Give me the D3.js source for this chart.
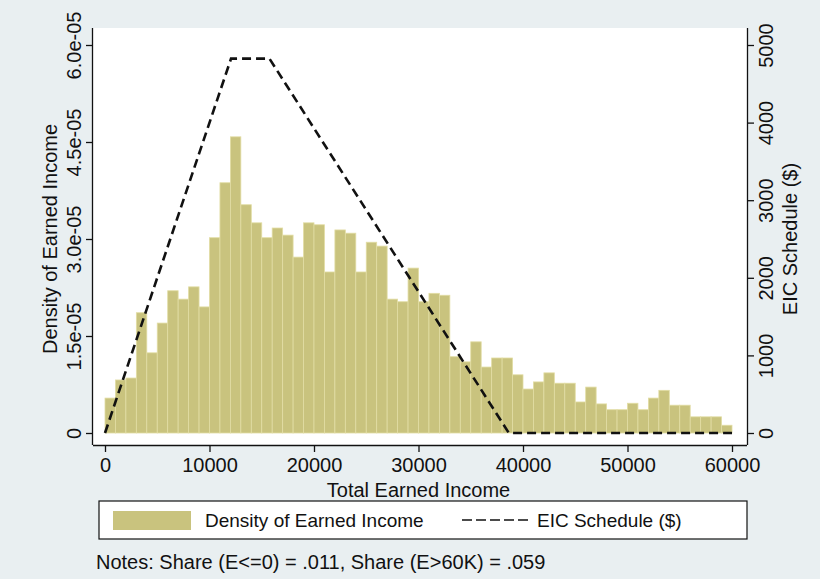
<!DOCTYPE html>
<html>
<head>
<meta charset="utf-8">
<script src="https://cdn.jsdelivr.net/npm/d3@7"></script>
<style>
  html, body { margin: 0; padding: 0; background: #e9eff1; }
  svg { display: block; }
  text { font-family: "Liberation Sans", Arial, Helvetica, sans-serif; fill: #111; }
</style>
</head>
<body>
<svg id="chart" width="820" height="579"></svg>
<script>
// ---------- DATA ----------
// Histogram bins (lower edges, $), width 1000
const binStart = [0,1000,2000,3000,4000,5000,6000,7000,8000,9000,
  10000,11000,12000,13000,14000,15000,16000,17000,18000,19000,
  20000,21000,22000,23000,24000,25000,26000,27000,28000,29000,
  30000,31000,32000,33000,34000,35000,36000,37000,38000,39000,
  40000,41000,42000,43000,44000,45000,46000,47000,48000,49000,
  50000,51000,52000,53000,54000,55000,56000,57000,58000,59000];
const binWidth = 1000;
// Density of earned income per bin
const density = [0.54e-5,0.82e-5,0.85e-5,1.86e-5,1.24e-5,1.70e-5,2.20e-5,2.07e-5,2.26e-5,1.95e-5,
  3.02e-5,3.87e-5,4.58e-5,3.53e-5,3.25e-5,3.02e-5,3.17e-5,3.06e-5,2.72e-5,3.25e-5,
  3.22e-5,2.49e-5,3.14e-5,3.09e-5,2.49e-5,2.95e-5,2.89e-5,2.07e-5,2.03e-5,2.55e-5,
  2.03e-5,2.16e-5,2.13e-5,1.18e-5,1.10e-5,1.41e-5,1.02e-5,1.16e-5,1.16e-5,0.90e-5,
  0.68e-5,0.79e-5,0.93e-5,0.77e-5,0.77e-5,0.48e-5,0.71e-5,0.45e-5,0.36e-5,0.36e-5,
  0.46e-5,0.36e-5,0.54e-5,0.66e-5,0.43e-5,0.43e-5,0.25e-5,0.25e-5,0.25e-5,0.12e-5];
// EIC schedule kink points
const eicIncome = [0, 12060, 15740, 38646, 60000];
const eicCredit = [0, 4824, 4824, 0, 0];
// Axis ticks
const xTicks = [0,10000,20000,30000,40000,50000,60000];
const yLeftTicks = [0, 1.5e-5, 3.0e-5, 4.5e-5, 6.0e-5];
const yLeftTickLabels = ["0","1.5e-05","3.0e-05","4.5e-05","6.0e-05"];
const yRightTicks = [0,1000,2000,3000,4000,5000];
// Texts
const xTitle = "Total Earned Income";
const yLeftTitle = "Density of Earned Income";
const yRightTitle = "EIC Schedule ($)";
const legendLabels = ["Density of Earned Income", "EIC Schedule ($)"];
const noteText = "Notes: Share (E<=0) = .011, Share (E>60K) = .059";

// ---------- LAYOUT ----------
const svg = d3.select("#chart");
const FS = 20;
const plot = {left: 93, right: 747, top: 28, bottom: 445};
const x = d3.scaleLinear().domain([0, 60000]).range([105, 732]);
const yL = d3.scaleLinear().domain([0, 6.0e-5]).range([433, 45]);
const yR = d3.scaleLinear().domain([0, 5000]).range([433, 45]);
const barFill = "#c9c37e";
const barStroke = "#e2dda4";

svg.append("rect").attr("x",0).attr("y",0).attr("width",820).attr("height",579).attr("fill","#e9eff1");
svg.append("rect").attr("x",plot.left).attr("y",plot.top)
  .attr("width",plot.right-plot.left).attr("height",plot.bottom-plot.top).attr("fill","#ffffff");

// Bars
svg.append("g").selectAll("rect").data(binStart).join("rect")
  .attr("x", (d) => x(d))
  .attr("width", (d) => x(d + binWidth) - x(d))
  .attr("y", (d, i) => yL(density[i]))
  .attr("height", (d, i) => yL(0) - yL(density[i]))
  .attr("fill", barFill)
  .attr("stroke", barStroke)
  .attr("stroke-width", 0.8);

// EIC line
const eicPts = eicIncome.map((v, i) => [v, eicCredit[i]]);
svg.append("path")
  .attr("d", d3.line().x(d => x(d[0])).y(d => yR(d[1]))(eicPts))
  .attr("fill","none").attr("stroke","#111").attr("stroke-width",2.6)
  .attr("stroke-dasharray","9,5");

// Axes
const axisColor = "#111";
// bottom
const gx = svg.append("g").attr("transform",`translate(0,${plot.bottom})`)
  .call(d3.axisBottom(x).tickValues(xTicks).tickFormat(d3.format("d")).tickSize(7).tickPadding(6));
gx.select(".domain").attr("d", `M${plot.left},0.5H${plot.right}`).attr("stroke",axisColor).attr("stroke-width",1.3);
gx.selectAll(".tick line").attr("stroke",axisColor).attr("stroke-width",1.3);
gx.selectAll(".tick text").attr("font-size",FS).attr("font-family","Liberation Sans, Arial, sans-serif").attr("fill","#111");

// left
const gl = svg.append("g").attr("transform",`translate(${plot.left},0)`)
  .call(d3.axisLeft(yL).tickValues(yLeftTicks).tickFormat((d,i) => yLeftTickLabels[i]).tickSize(7).tickPadding(4));
gl.select(".domain").attr("d", `M-0.5,${plot.top}V${plot.bottom}`).attr("stroke",axisColor).attr("stroke-width",1.3);
gl.selectAll(".tick line").attr("stroke",axisColor).attr("stroke-width",1.3);
gl.selectAll(".tick text")
  .attr("font-size",FS).attr("font-family","Liberation Sans, Arial, sans-serif").attr("fill","#111")
  .attr("x",null).attr("dy",null).attr("text-anchor","middle")
  .attr("transform","translate(-12,0) rotate(-90)");

// right
const gr = svg.append("g").attr("transform",`translate(${plot.right},0)`)
  .call(d3.axisRight(yR).tickValues(yRightTicks).tickFormat(d3.format("d")).tickSize(7).tickPadding(4));
gr.select(".domain").attr("d", `M0.5,${plot.top}V${plot.bottom}`).attr("stroke",axisColor).attr("stroke-width",1.3);
gr.selectAll(".tick line").attr("stroke",axisColor).attr("stroke-width",1.3);
gr.selectAll(".tick text")
  .attr("font-size",FS).attr("font-family","Liberation Sans, Arial, sans-serif").attr("fill","#111")
  .attr("x",null).attr("dy",null).attr("text-anchor","middle")
  .attr("transform","translate(26,0) rotate(-90)");

// Axis titles
svg.append("text").attr("x", x(30000)).attr("y", 497).attr("text-anchor","middle")
  .attr("font-size",FS).text(xTitle);
svg.append("text").attr("transform",`translate(57,${yL(3.0e-5)}) rotate(-90)`).attr("text-anchor","middle")
  .attr("font-size",FS).text(yLeftTitle);
svg.append("text").attr("transform",`translate(797,${yR(2500)}) rotate(-90)`).attr("text-anchor","middle")
  .attr("font-size",FS).text(yRightTitle);

// Legend
const LFS = 19;
const lg = svg.append("g");
lg.append("rect").attr("x",99).attr("y",501).attr("width",648).attr("height",38)
  .attr("fill","#fff").attr("stroke","#111").attr("stroke-width",1.2);
lg.append("rect").attr("x",113).attr("y",511).attr("width",78).attr("height",19).attr("fill",barFill);
lg.append("text").attr("x",205).attr("y",527).attr("font-size",LFS).text(legendLabels[0]);
lg.append("line").attr("x1",462).attr("x2",530).attr("y1",520).attr("y2",520)
  .attr("stroke","#111").attr("stroke-width",1.6).attr("stroke-dasharray","10,4");
lg.append("text").attr("x",537).attr("y",527).attr("font-size",LFS).text(legendLabels[1]);

// Note
svg.append("text").attr("x",96).attr("y",569).attr("font-size",20).text(noteText);
</script>
</body>
</html>
